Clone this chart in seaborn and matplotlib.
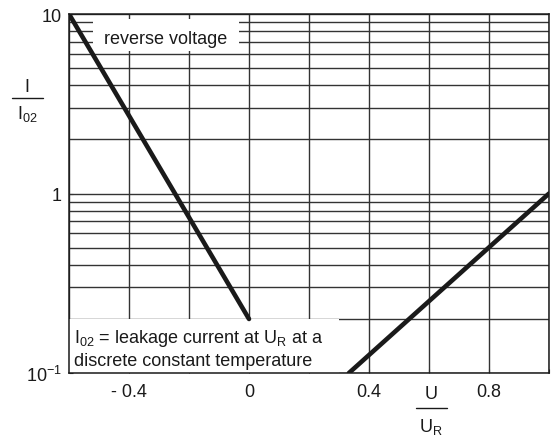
import numpy as np
import pandas as pd
import matplotlib
matplotlib.use("Agg")
import matplotlib.pyplot as plt
import matplotlib.ticker as mticker
from matplotlib.lines import Line2D
from matplotlib.patches import Rectangle
import seaborn as sns

# ── Data ───────────────────────────────────────────────
reverse_u = [-0.6, 0.0]
reverse_i = [10.0, 0.2]
forward_u = [0.333, 1.0]
forward_i = [0.1, 1.0]

x_ticks = [-0.6, -0.4, -0.2, 0.0, 0.2, 0.4, 0.6, 0.8, 1.0]
x_labels = ["", "- 0.4", "", "0", "", "0.4", "", "0.8", ""]
y_ticks = [0.1, 1, 10]
y_labels = ["10$^{-1}$", "1", "10"]

# ── Style ──────────────────────────────────────────────
sns.set_style("ticks")
plt.rcParams.update({
    "font.family": ["Liberation Sans", "DejaVu Sans"],
    "mathtext.default": "regular",
    "axes.unicode_minus": False,
    "font.size": 13,
})
FS = 13
INK = "#1a1a1a"

df = pd.concat([
    pd.DataFrame({"U": reverse_u, "I": reverse_i, "branch": "reverse"}),
    pd.DataFrame({"U": forward_u, "I": forward_i, "branch": "forward"}),
], ignore_index=True)

fig = plt.figure(figsize=(5.52, 4.39), dpi=100)
ax = fig.add_axes([0.125, 0.148, 0.8696, 0.8178])

sns.lineplot(data=df, x="U", y="I", hue="branch", sort=False,
             palette={"reverse": INK, "forward": INK},
             linewidth=3.3, legend=False, ax=ax, zorder=5)

ax.set_yscale("log")
ax.set_xlim(-0.6, 1.0)
ax.set_ylim(0.1, 10)

ax.xaxis.set_major_locator(mticker.FixedLocator(x_ticks))
ax.xaxis.set_major_formatter(mticker.FixedFormatter(x_labels))
ax.yaxis.set_major_locator(mticker.FixedLocator(y_ticks))
ax.yaxis.set_major_formatter(mticker.FixedFormatter(y_labels))
ax.yaxis.set_minor_locator(mticker.LogLocator(base=10, subs=np.arange(2, 10)))
ax.yaxis.set_minor_formatter(mticker.NullFormatter())

ax.grid(True, which="major", axis="x", color="#333333", linewidth=1.0)
ax.grid(True, which="both", axis="y", color="#333333", linewidth=1.0)
ax.tick_params(which="both", direction="in", length=3, color="#333333",
               labelsize=FS, pad=5, labelcolor=INK)
ax.tick_params(axis="x", pad=7)
ax.set_xlabel("")
ax.set_ylabel("")

for s in ax.spines.values():
    s.set_color(INK)
    s.set_linewidth(1.1)

# white patches behind the annotations
ax.add_patch(Rectangle((-0.52, 6.2), 0.485, 3.2, facecolor="white",
                       edgecolor="none", zorder=2))
ax.add_patch(Rectangle((-0.6, 0.1), 0.9, 0.1, facecolor="white",
                       edgecolor="none", zorder=2))

ax.text(-0.278, 7.35, "reverse voltage", ha="center", va="center",
        fontsize=FS, color=INK, zorder=3)
ax.text(-0.582, 0.1375, "I$_{02}$ = leakage current at U$_R$ at a\n"
        "discrete constant temperature", ha="left", va="center",
        fontsize=FS, color=INK, linespacing=1.3, zorder=3)

# fraction labels
W, H = 552, 439


def frac(xc, y_top, y_line, y_bot, x0, x1, top, bot):
    fig.text(xc / W, 1 - y_top / H, top, ha="center", va="center",
             fontsize=FS, color=INK)
    fig.add_artist(Line2D([x0 / W, x1 / W], [1 - y_line / H] * 2,
                          color=INK, linewidth=1.0))
    fig.text(xc / W, 1 - y_bot / H, bot, ha="center", va="center",
             fontsize=FS, color=INK)


frac(27, 87, 99, 114, 12, 43, "I", "I$_{02}$")
frac(431, 395, 409, 427, 416, 447, "U", "U$_R$")

fig.savefig("out.png", dpi=100)
